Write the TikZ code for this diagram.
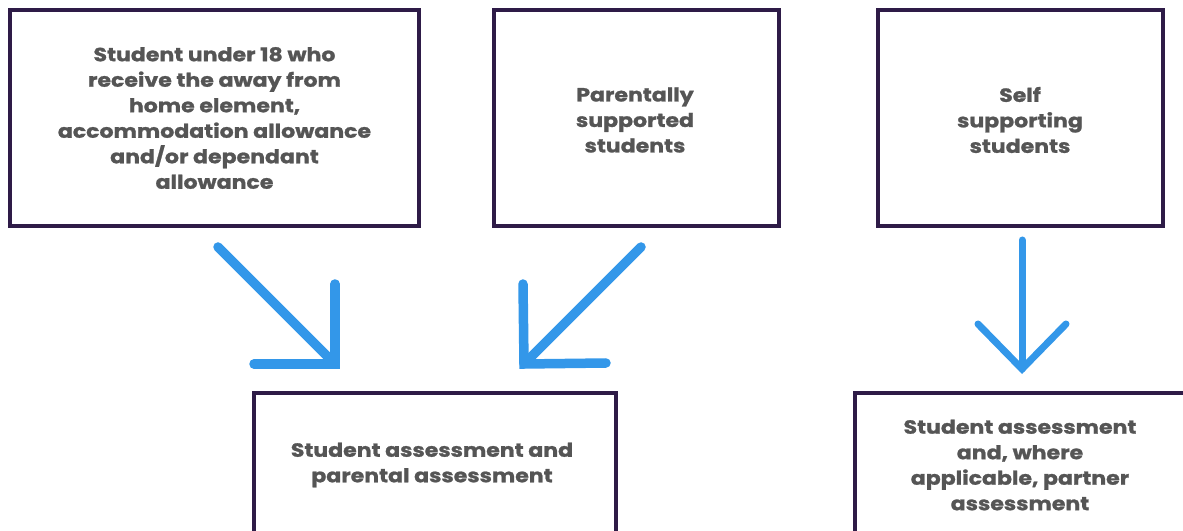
\documentclass[tikz,border=0pt]{standalone}
\usepackage{fontspec}
\setmainfont{Poppins}[BoldFont={Poppins Bold},BoldFeatures={FakeStretch=1.16,FakeBold=1.2}]
\definecolor{boxpurple}{HTML}{2E1B47}
\definecolor{arrowblue}{HTML}{3397E9}
\definecolor{txtgrey}{HTML}{555555}
\tikzset{
  box/.style={draw=boxpurple, line width=4bp, fill=white, inner sep=0pt},
  boxtext/.style={text=txtgrey, font=\fontsize{19bp}{25.5bp}\selectfont\bfseries, align=center, inner sep=0pt},
  bigarrow/.style={draw=arrowblue, line width=9.5bp, line cap=round, line join=miter},
  thinarrow/.style={draw=arrowblue, line width=7bp, line cap=round, line join=miter}
}
\begin{document}
\begin{tikzpicture}[x=1bp,y=-1bp]
\useasboundingbox (0,0) rectangle (1183,531);
\clip (0,0) rectangle (1183,531);
% top boxes
\node[box, minimum width=409bp, minimum height=216bp] (b1) at (214.5,118) {};
\node[box, minimum width=285bp, minimum height=216bp] (b2) at (636.5,118) {};
\node[box, minimum width=285bp, minimum height=216bp] (b3) at (1020.5,118) {};
% bottom boxes (cut off)
\node[box, minimum width=362bp, minimum height=216bp, anchor=north west] (b4) at (252,391) {};
\node[box, minimum width=380bp, minimum height=216bp, anchor=north west] (b5) at (853,391) {};
% texts
\node[boxtext] (t1) at (214.5,118) {Student under 18 who\\receive the away from\\home element,\\accommodation allowance\\and/or dependant\\allowance};
\node[boxtext] (t2) at (635,120) {Parentally\\supported\\students};
\node[boxtext] (t3) at (1020,120) {Self\\supporting\\students};
\node[boxtext] (t4) at (432,465) {Student assessment and\\parental assessment};
\node[boxtext] (t5) at (1020,465) {Student assessment\\and, where\\applicable, partner\\assessment};
% arrow coordinates
\coordinate (a1s) at (218,247);
\coordinate (a1v) at (335,364);
\coordinate (a1t) at (335,284);
\coordinate (a1h) at (254,364);
\coordinate (a2s) at (641,247);
\coordinate (a2v) at (524,364);
\coordinate (a2t) at (523,284);
\coordinate (a2h) at (606,363);
\coordinate (a3s) at (1022,240);
\coordinate (a3v) at (1022,369);
\coordinate (a3l) at (978,324);
\coordinate (a3r) at (1066,324);
\draw[bigarrow] (a1s) -- (a1v);
\draw[bigarrow] (a1t) -- (a1v) -- (a1h);
\draw[bigarrow] (a2s) -- (a2v);
\draw[bigarrow] (a2t) -- (a2v) -- (a2h);
\draw[thinarrow] (a3s) -- (a3v);
\draw[thinarrow] (a3l) -- (a3v) -- (a3r);
\end{tikzpicture}
\end{document}
